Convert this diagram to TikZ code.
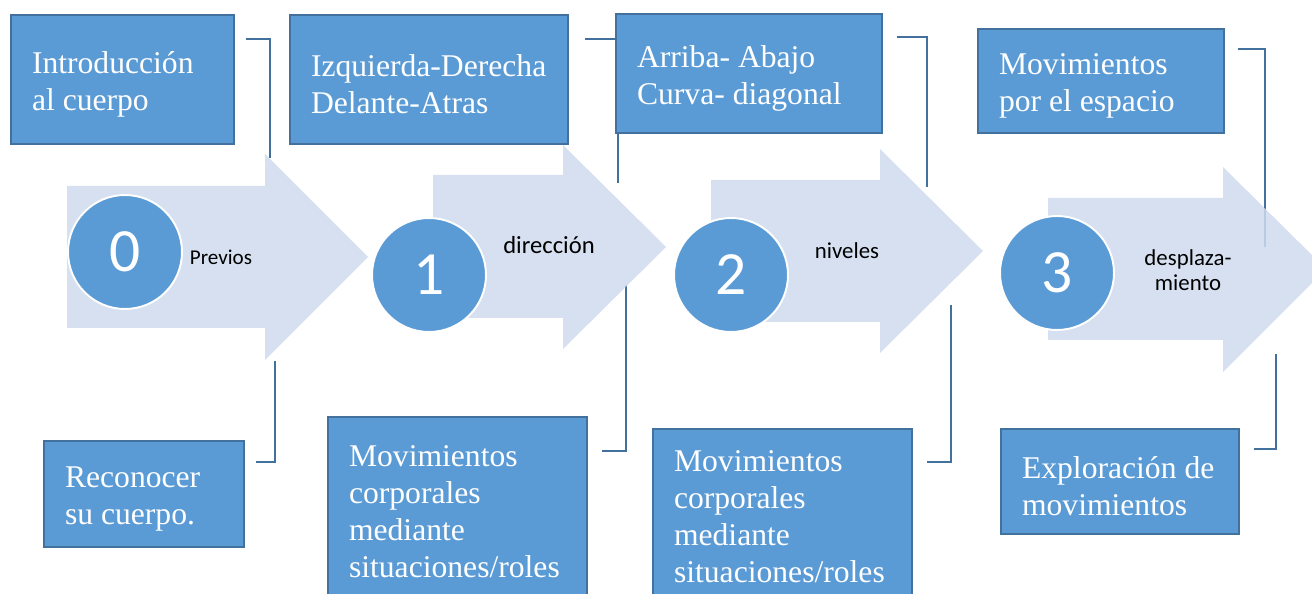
\documentclass[tikz,border=0pt]{standalone}
\usepackage{fontspec}
\setmainfont{Liberation Serif}
\newfontfamily\calibri{Carlito}
\usepackage{tikz}
\definecolor{boxblue}{RGB}{91,155,213}
\definecolor{boxline}{RGB}{65,113,156}
\definecolor{arrowblue}{RGB}{207,219,237}
\exhyphenpenalty=10000
\hyphenpenalty=10000

\begin{document}
\begin{tikzpicture}[x=0.02cm, y=0.02cm]
                \tikzstyle{every node}+=[inner sep=0pt]
                \tikzstyle{topic}=[draw=boxline, fill=boxblue, line width=1.1pt, text=white, align=flush left, inner xsep=0.42cm, font=\fontsize{18}{21}\selectfont]
                \tikzstyle{sunk}=[execute at begin node={\rule{0pt}{18pt}}]
                \tikzstyle{stage}=[circle, draw=white, fill=boxblue, line width=1.1pt, minimum size=2.28cm, text=white, font=\calibri\fontsize{35}{35}\selectfont]
                \tikzstyle{tag}=[align=center, font=\calibri\fontsize{13}{14}\selectfont]
                \tikzstyle{link}=[draw=boxline, line width=1.1pt]
                \useasboundingbox (0,0) rectangle (1312,-594);
                \clip (0,0) rectangle (1312,-594);
                % brackets
                \coordinate (a1) at (246,-39);
                \coordinate (a2) at (270,-158);
                \coordinate (b1) at (585,-39);
                \coordinate (b2) at (618,-183);
                \coordinate (c1) at (897,-37);
                \coordinate (c2) at (927,-187);
                \coordinate (d1) at (1238,-49);
                \coordinate (d2) at (1265,-247);
                \coordinate (e1) at (275,-361);
                \coordinate (e2) at (256,-462);
                \coordinate (f1) at (626,-285);
                \coordinate (f2) at (602,-451);
                \coordinate (g1) at (951,-305);
                \coordinate (g2) at (927,-462);
                \coordinate (h1) at (1276,-354);
                \coordinate (h2) at (1254,-449);
                \draw [link] (a1) -| (a2);
                \draw [link] (b1) -| (b2);
                \draw [link] (c1) -| (c2);
                \draw [link] (d1) -| (d2);
                \draw [link] (e1) |- (e2);
                \draw [link] (f1) |- (f2);
                \draw [link] (g1) |- (g2);
                \draw [link] (h1) |- (h2);
                % arrows
                \fill [arrowblue, fill opacity=0.85] (67,-186) -- (265,-186) -- (265,-154) -- (368,-257) -- (265,-360) -- (265,-328) -- (67,-328) -- cycle;
                \fill [arrowblue, fill opacity=0.85] (433,-175) -- (563,-175) -- (563,-145) -- (666,-247) -- (563,-349) -- (563,-318) -- (433,-318) -- cycle;
                \fill [arrowblue, fill opacity=0.85] (711,-180) -- (880,-180) -- (880,-149) -- (983,-251) -- (880,-353) -- (880,-322) -- (711,-322) -- cycle;
                \fill [arrowblue, fill opacity=0.85] (1048,-198) -- (1223,-198) -- (1223,-167) -- (1326,-269) -- (1223,-372) -- (1223,-340) -- (1048,-340) -- cycle;
                % stages
                \node [stage] (s0) at (125,-252) {0};
                \node [stage] (s1) at (429,-275) {1};
                \node [stage] (s2) at (731,-275) {2};
                \node [stage] (s3) at (1057,-273) {3};
                \node [tag, font=\calibri\fontsize{12}{13}\selectfont] (previos) at (221,-257) {Previos};
                \node [tag, font=\calibri\fontsize{14}{15}\selectfont] (direccion) at (549,-245) {dirección};
                \node [tag] (niveles) at (847,-251) {niveles};
                \node [tag] (desplaz) at (1188,-270) {desplaza-\\miento};
                % boxes
                \node [topic, sunk, text width=3.62cm, minimum height=2.58cm] (intro) at (122.5,-79.5) {Introducción\\al cuerpo};
                \node [topic, sunk, text width=4.72cm, minimum height=2.58cm] (izq) at (429,-79.5) {Izquierda-Derecha\\Delante-Atras};
                \node [topic, sunk, text width=4.48cm, minimum height=2.38cm] (arriba) at (749,-73.5) {Arriba- Abajo\\Curva- diagonal};
                \node [topic, sunk, text width=4.08cm, minimum height=2.08cm] (espacio) at (1101,-81) {Movimientos\\por el espacio};
                \node [topic, sunk, text width=3.16cm, minimum height=2.12cm] (reconocer) at (144,-494) {Reconocer\\su cuerpo.};
                \node [topic, text width=4.34cm, minimum height=3.78cm] (roles1) at (457.5,-511.5) {Movimientos\\corporales\\mediante\\situaciones/roles};
                \node [topic, text width=4.34cm, minimum height=3.52cm] (roles2) at (782.5,-517) {Movimientos\\corporales\\mediante\\situaciones/roles};
                \node [topic, sunk, text width=3.92cm, minimum height=2.1cm] (explora) at (1120,-481.5) {Exploración de\\movimientos};
\end{tikzpicture}
\end{document}
